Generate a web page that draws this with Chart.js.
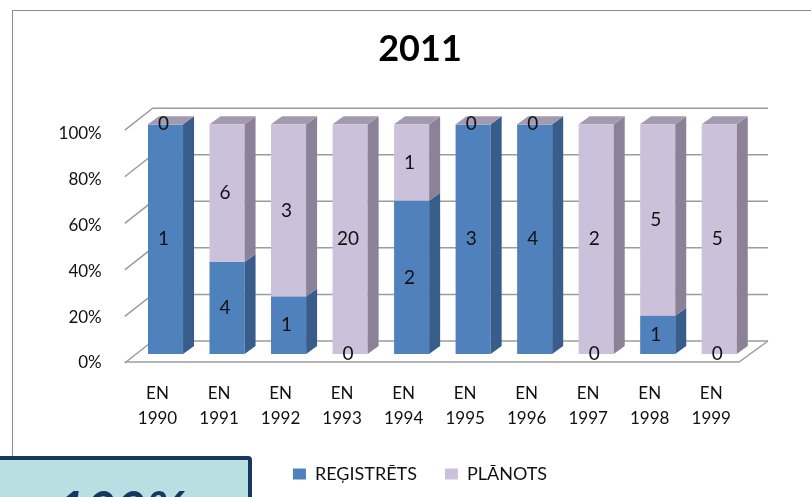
<!DOCTYPE html>
<html>
<head>
<meta charset="utf-8">
<script src="https://cdn.jsdelivr.net/npm/chart.js@4.4.0/dist/chart.umd.min.js"></script>
<style>
  html, body { margin: 0; padding: 0; background: #fff; }
  body { width: 811px; height: 497px; position: relative; overflow: hidden; }
  #frame { position: absolute; left: 12px; top: 10px; width: 900px; height: 600px; border: 1px solid #8c8c8c; box-sizing: border-box; }
  #wrap { position: absolute; left: 0; top: 0; width: 811px; height: 497px; }
  #badge { position: absolute; left: -6px; top: 456px; width: 258px; height: 60px; background: #b8e0e3; border: 4px solid #17375e; border-radius: 4px; box-sizing: border-box; overflow: hidden; }
  #badge span { position: absolute; left: 58px; top: 17px; font: italic bold 52px Lato, sans-serif; color: #17375e; }
</style>
</head>
<body>
<div id="frame"></div>
<div id="wrap"><canvas id="chart" width="811" height="497"></canvas></div>
<div id="badge"><span>100%</span></div>
<script>
// dati no attēla
const categories = ['EN 1990', 'EN 1991', 'EN 1992', 'EN 1993', 'EN 1994', 'EN 1995', 'EN 1996', 'EN 1997', 'EN 1998', 'EN 1999'];
const registreti = [1, 4, 1, 0, 2, 3, 4, 0, 1, 0];
const planoti = [0, 6, 3, 20, 1, 0, 0, 2, 5, 5];
const seriesNames = ['REĢISTRĒTS', 'PLĀNOTS'];
const chartTitle = '2011';

const totals = registreti.map((v, i) => v + planoti[i]);
const regPct = registreti.map((v, i) => v / totals[i] * 100);
const planPct = planoti.map((v, i) => v / totals[i] * 100);
const rawValues = [registreti, planoti];

const FONT = 'Lato, sans-serif';
const DEPTH_X = 11, DEPTH_Y = 8;
const pctLabel = v => v + '%';

// 3D siena, grīda un stabiņu sāni
const bars3d = {
    id: 'bars3d',
    beforeDatasetsDraw(chart) {
        const ctx = chart.ctx;
        const area = chart.chartArea;
        const y = chart.scales.y;
        const backLeft = area.left + 18;
        const backRight = area.right + 18;
        const backY = v => {
            const yf = y.getPixelForValue(v);
            return yf - 16 + (yf - area.top) * 0.013;
        };
        ctx.save();
        ctx.strokeStyle = '#9c9c9c';
        ctx.lineWidth = 1.5;
        y.ticks.forEach(t => {
            const yb = backY(t.value);
            ctx.beginPath();
            ctx.moveTo(backLeft - 28, yb + 22);
            ctx.lineTo(backLeft, yb);
            ctx.lineTo(backRight, yb);
            ctx.stroke();
        });
        // grīda
        const y0 = backY(0);
        ctx.beginPath();
        ctx.moveTo(backLeft - 28, y0 + 21);
        ctx.lineTo(backRight - 29, y0 + 21);
        ctx.lineTo(backRight, y0);
        ctx.stroke();
        // y ass uzraksti pie sienas priekšējās malas
        ctx.fillStyle = '#111';
        ctx.font = '17px ' + FONT;
        ctx.textAlign = 'right';
        ctx.textBaseline = 'middle';
        y.ticks.forEach(t => {
            ctx.fillText(pctLabel(t.value), area.left - 33, y.getPixelForValue(t.value) + 9);
        });
        ctx.restore();
    },
    afterDatasetsDraw(chart) {
        const ctx = chart.ctx;
        const sideColors = ['#385d8a', '#8c8298'];
        ctx.save();
        chart.data.datasets.forEach((ds, di) => {
            const meta = chart.getDatasetMeta(di);
            meta.data.forEach(bar => {
                const right = bar.x + bar.width / 2;
                const left = bar.x - bar.width / 2;
                ctx.fillStyle = sideColors[di];
                ctx.beginPath();
                ctx.moveTo(right, bar.y);
                ctx.lineTo(right + DEPTH_X, bar.y - DEPTH_Y);
                ctx.lineTo(right + DEPTH_X, bar.base - DEPTH_Y);
                ctx.lineTo(right, bar.base);
                ctx.closePath();
                ctx.fill();
                if (di === chart.data.datasets.length - 1) {
                    ctx.fillStyle = '#a49aaf';
                    ctx.beginPath();
                    ctx.moveTo(left, bar.y);
                    ctx.lineTo(left + DEPTH_X, bar.y - DEPTH_Y);
                    ctx.lineTo(right + DEPTH_X, bar.y - DEPTH_Y);
                    ctx.lineTo(right, bar.y);
                    ctx.closePath();
                    ctx.fill();
                }
            });
        });
        // vērtību uzraksti
        ctx.fillStyle = '#111';
        ctx.font = '19px ' + FONT;
        ctx.textAlign = 'center';
        ctx.textBaseline = 'middle';
        chart.data.datasets.forEach((ds, di) => {
            const meta = chart.getDatasetMeta(di);
            meta.data.forEach((bar, i) => {
                ctx.fillText(String(rawValues[di][i]), bar.x - 2, (bar.y + bar.base) / 2);
            });
        });
        ctx.restore();
    }
};

new Chart(document.getElementById('chart'), {
    type: 'bar',
    data: {
        labels: categories.map(c => c.split(' ')),
        datasets: [
            { label: seriesNames[0], data: regPct, backgroundColor: '#4f81bd' },
            { label: seriesNames[1], data: planPct, backgroundColor: '#ccc1da' }
        ]
    },
    options: {
        responsive: false,
        animation: false,
        devicePixelRatio: 1,
        categoryPercentage: 1,
        barPercentage: 0.57,
        layout: { padding: { left: 90, right: 61, bottom: 4, top: 0 } },
        scales: {
            x: {
                stacked: true,
                grid: { display: false, drawTicks: false },
                border: { display: false },
                ticks: { color: '#111', font: { family: FONT, size: 17, lineHeight: 1.47 }, padding: 27, labelOffset: -8, maxRotation: 0 },
                afterFit(scale) { scale.height = 83; }
            },
            y: {
                stacked: true,
                min: 0,
                max: 100,
                grid: { display: false, drawTicks: false },
                border: { display: false },
                ticks: { stepSize: 20, display: false, callback: pctLabel },
                afterFit(scale) { scale.width = 44.75; }
            }
        },
        plugins: {
            title: { display: true, text: chartTitle, color: '#000', font: { family: FONT, size: 36, weight: 'bold' }, padding: { top: 28, bottom: 53 } },
            legend: {
                position: 'bottom',
                labels: { color: '#111', font: { family: FONT, size: 18 }, boxWidth: 13, boxHeight: 11, padding: 28 }
            },
            tooltip: { enabled: false }
        }
    },
    plugins: [bars3d]
});
</script>
</body>
</html>
